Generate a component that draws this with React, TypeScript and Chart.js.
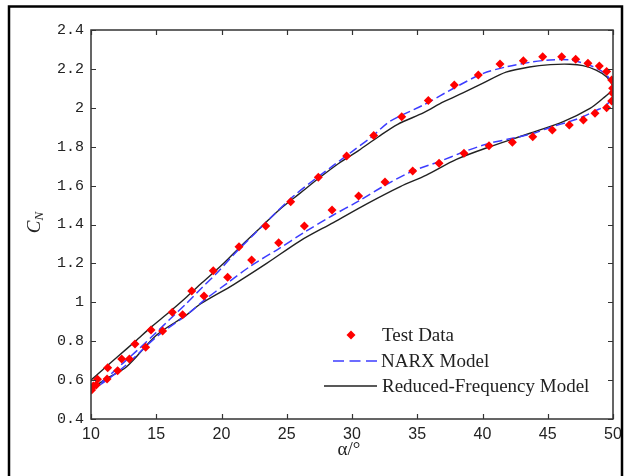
import React, { useEffect, useRef } from 'react';
import { Chart, registerables } from 'chart.js';

Chart.register(...registerables);

// ---------- data ----------
const xTicks = [10, 15, 20, 25, 30, 35, 40, 45, 50];
const xTickLabels = ['10', '15', '20', '25', '30', '35', '40', '45', '50'];
const yTicks = [0.4, 0.6, 0.8, 1.0, 1.2, 1.4, 1.6, 1.8, 2.0, 2.2, 2.4];
const yTickLabels = ['0.4', '0.6', '0.8', '1', '1.2', '1.4', '1.6', '1.8', '2', '2.2', '2.4'];

const seriesNames = ['Test Data', 'NARX Model', 'Reduced-Frequency Model'];

const testX = [10.05, 10.5, 11.28, 12.35, 13.37, 14.6, 16.23, 17.72, 19.37, 21.34, 23.39, 25.3, 27.42, 29.59, 31.66, 33.81, 35.85, 37.84, 39.68, 41.34, 43.13, 44.61, 46.07, 47.14, 48.08, 48.95, 49.51, 49.9, 49.97,
  49.98, 49.9, 49.51, 48.62, 47.73, 46.65, 45.35, 43.85, 42.29, 40.5, 38.58, 36.67, 34.65, 32.53, 30.51, 28.47, 26.35, 24.38, 22.31, 20.47, 18.66, 17.02, 15.49, 14.19, 12.94, 12.04, 11.23, 10.4, 10.18];
const testY = [0.549, 0.604, 0.664, 0.708, 0.786, 0.858, 0.949, 1.058, 1.162, 1.286, 1.392, 1.517, 1.643, 1.752, 1.857, 1.954, 2.037, 2.117, 2.169, 2.225, 2.242, 2.263, 2.263, 2.249, 2.229, 2.215, 2.186, 2.143, 2.1,
  2.075, 2.035, 2.0, 1.972, 1.937, 1.912, 1.886, 1.851, 1.823, 1.805, 1.766, 1.715, 1.675, 1.619, 1.547, 1.475, 1.392, 1.306, 1.217, 1.129, 1.032, 0.936, 0.852, 0.769, 0.708, 0.648, 0.606, 0.575, 0.57];

const narxX = [10, 11, 12.5, 13.5, 15, 16, 17.33, 18.5, 19.63, 21, 22.5, 24, 25.5, 27, 28.5, 30, 31.5, 32.9, 35.46, 38.02, 40.06, 41.85, 43.64, 45.17, 46.7, 47.73, 48.75, 49.51, 50,
  49.97, 49.51, 48.62, 47.73, 46.65, 45.35, 43.85, 42.29, 40.5, 38.58, 36.67, 34.65, 32.5, 30.5, 28.47, 26.35, 24.38, 22.31, 20.47, 18.66, 17.33, 15.03, 12.73, 11, 10];
const narxY = [0.55, 0.6, 0.69, 0.75, 0.845, 0.91, 0.995, 1.075, 1.149, 1.25, 1.35, 1.45, 1.545, 1.625, 1.7, 1.775, 1.85, 1.93, 2.014, 2.109, 2.177, 2.211, 2.234, 2.246, 2.246, 2.229, 2.203, 2.169, 2.109,
  2.066, 2.014, 1.984, 1.955, 1.929, 1.903, 1.868, 1.843, 1.817, 1.774, 1.723, 1.675, 1.6, 1.52, 1.445, 1.36, 1.275, 1.19, 1.1, 1.01, 0.935, 0.823, 0.68, 0.59, 0.55];

const rfmX = [10, 11, 12.1, 13.4, 14.65, 16, 17.2, 18.5, 20, 21.5, 23, 24.5, 26, 27.5, 29, 30.5, 32, 33.5, 35.5, 37, 38.5, 40, 41.8, 43.6, 45.2, 46.7, 47.7, 48.7, 49.5, 49.95, 50,
  49.7, 49.26, 48.24, 46.19, 43.64, 40.57, 38, 35.7, 33.7, 31.1, 28.57, 26, 23.46, 20.9, 18.35, 17.33, 15.03, 12.73, 11, 10];
const rfmY = [0.6, 0.66, 0.724, 0.8, 0.875, 0.95, 1.02, 1.1, 1.19, 1.29, 1.385, 1.48, 1.56, 1.64, 1.715, 1.78, 1.85, 1.915, 1.975, 2.03, 2.077, 2.125, 2.183, 2.21, 2.222, 2.224, 2.217, 2.194, 2.16, 2.117, 2.1,
  2.075, 2.05, 1.997, 1.929, 1.869, 1.8, 1.735, 1.654, 1.595, 1.505, 1.41, 1.315, 1.2, 1.09, 0.99, 0.935, 0.832, 0.669, 0.6, 0.55];

const toPts = (xs: number[], ys: number[]) => xs.map((x, i) => ({ x, y: ys[i] }));

const RED = '#ff0000';
const BLUE = '#3c3cff';
const BLACK = '#222222';
const AXIS = '#333333';

const decorPlugin = {
  id: 'decor',
  afterDraw(chart: any) {
    const { ctx, chartArea: a, scales } = chart;
    const xs = scales.x;
    const ys = scales.y;
    ctx.save();
    // outer frame
    ctx.strokeStyle = '#000';
    ctx.lineWidth = 2.5;
    ctx.beginPath();
    ctx.moveTo(9, 476);
    ctx.lineTo(9, 6.5);
    ctx.lineTo(622, 6.5);
    ctx.lineTo(622, 476);
    ctx.stroke();

    // axes box
    ctx.strokeStyle = AXIS;
    ctx.lineWidth = 1.5;
    ctx.strokeRect(a.left, a.top, a.right - a.left, a.bottom - a.top);
    // inward ticks
    ctx.lineWidth = 1.2;
    ctx.beginPath();
    xTicks.forEach((v) => {
      const px = Math.round(xs.getPixelForValue(v)) + 0.5;
      ctx.moveTo(px, a.bottom);
      ctx.lineTo(px, a.bottom - 5);
      ctx.moveTo(px, a.top);
      ctx.lineTo(px, a.top + 5);
    });
    yTicks.forEach((v) => {
      const py = Math.round(ys.getPixelForValue(v)) + 0.5;
      ctx.moveTo(a.left, py);
      ctx.lineTo(a.left + 5, py);
      ctx.moveTo(a.right, py);
      ctx.lineTo(a.right - 5, py);
    });
    ctx.stroke();

    // x title
    ctx.fillStyle = '#222';
    ctx.font = '19px "Liberation Serif"';
    ctx.textAlign = 'center';
    ctx.textBaseline = 'middle';
    ctx.fillText('α/°', (a.left + a.right) / 2 - 3, 450);

    // y title: C with subscript N, rotated
    ctx.save();
    ctx.translate(35, (a.top + a.bottom) / 2 - 2);
    ctx.rotate(-Math.PI / 2);
    ctx.font = 'italic 19px "Liberation Serif"';
    ctx.textAlign = 'left';
    ctx.textBaseline = 'middle';
    const cw = ctx.measureText('C').width;
    ctx.font = 'italic 13px "Liberation Serif"';
    const nw = ctx.measureText('N').width;
    const start = -(cw + nw) / 2;
    ctx.font = 'italic 19px "Liberation Serif"';
    ctx.fillText('C', start, 0);
    ctx.font = 'italic 13px "Liberation Serif"';
    ctx.fillText('N', start + cw, 5);
    ctx.restore();

    // legend
    ctx.font = '19px "Liberation Serif"';
    ctx.textAlign = 'left';
    ctx.textBaseline = 'middle';
    // Test Data
    const dx = 351, dy = 335, r = 4.5;
    ctx.fillStyle = RED;
    ctx.beginPath();
    ctx.moveTo(dx, dy - r);
    ctx.lineTo(dx + r, dy);
    ctx.lineTo(dx, dy + r);
    ctx.lineTo(dx - r, dy);
    ctx.closePath();
    ctx.fill();
    ctx.fillStyle = '#222';
    ctx.fillText(seriesNames[0], 382, 336);
    // NARX
    ctx.strokeStyle = BLUE;
    ctx.lineWidth = 1.5;
    ctx.setLineDash([11, 5.5]);
    ctx.beginPath();
    ctx.moveTo(333, 361);
    ctx.lineTo(377, 361);
    ctx.stroke();
    ctx.setLineDash([]);
    ctx.fillText(seriesNames[1], 381, 362);
    // RFM
    ctx.strokeStyle = BLACK;
    ctx.beginPath();
    ctx.moveTo(324, 386);
    ctx.lineTo(377, 386);
    ctx.stroke();
    ctx.fillText(seriesNames[2], 382, 387);
    ctx.restore();
  },
};

export default function App() {
  const ref = useRef<HTMLCanvasElement>(null);
  useEffect(() => {
    if (!ref.current) return;
    const chart = new Chart(ref.current, {
      type: 'scatter',
      data: {
        datasets: [
          {
            label: seriesNames[0],
            data: toPts(testX, testY),
            showLine: false,
            pointStyle: 'rectRot',
            pointRadius: 4.5,
            backgroundColor: RED,
            borderColor: RED,
            borderWidth: 0,
          },
          {
            label: seriesNames[1],
            data: toPts(narxX, narxY),
            showLine: true,
            pointRadius: 0,
            borderColor: BLUE,
            borderWidth: 1.5,
            borderDash: [9, 4],
            tension: 0.3,
          },
          {
            label: seriesNames[2],
            data: toPts(rfmX, rfmY),
            showLine: true,
            pointRadius: 0,
            borderColor: BLACK,
            borderWidth: 1.4,
            tension: 0.3,
          },
        ],
      },
      options: {
        animation: false,
        responsive: false,
        devicePixelRatio: 1,
        layout: { padding: { left: 0, right: 16, top: 30, bottom: 0 } },
        plugins: { legend: { display: false }, tooltip: { enabled: false }, title: { display: false } },
        scales: {
          x: {
            type: 'linear',
            min: 10,
            max: 50,
            afterBuildTicks: (s: any) => { s.ticks = xTicks.map((v) => ({ value: v })); },
            afterFit: (s: any) => { s.height = 57; },
            grid: { display: false, drawTicks: false },
            border: { display: false },
            ticks: {
              padding: 6,
              color: '#222',
              font: { family: 'Liberation Sans', size: 16 },
              callback: (v: any) => {
                const i = xTicks.findIndex((t) => Math.abs(t - v) < 1e-6);
                return i >= 0 ? xTickLabels[i] : '';
              },
            },
          },
          y: {
            type: 'linear',
            min: 0.4,
            max: 2.4,
            afterBuildTicks: (s: any) => { s.ticks = yTicks.map((v) => ({ value: v })); },
            afterFit: (s: any) => { s.width = 91; },
            grid: { display: false, drawTicks: false },
            border: { display: false },
            ticks: {
              padding: 7,
              color: '#222',
              font: { family: 'Liberation Mono', size: 15 },
              callback: (v: any) => {
                const i = yTicks.findIndex((t) => Math.abs(t - v) < 1e-6);
                return i >= 0 ? yTickLabels[i] : '';
              },
            },
          },
        },
      },
      plugins: [decorPlugin],
    });
    return () => chart.destroy();
  }, []);
  return (
    <div style={{ position: 'fixed', left: 0, top: 0, width: 629, height: 476, background: '#fff' }}>
      <canvas ref={ref} width={629} height={476} style={{ width: 629, height: 476, display: 'block' }} />
    </div>
  );
}
